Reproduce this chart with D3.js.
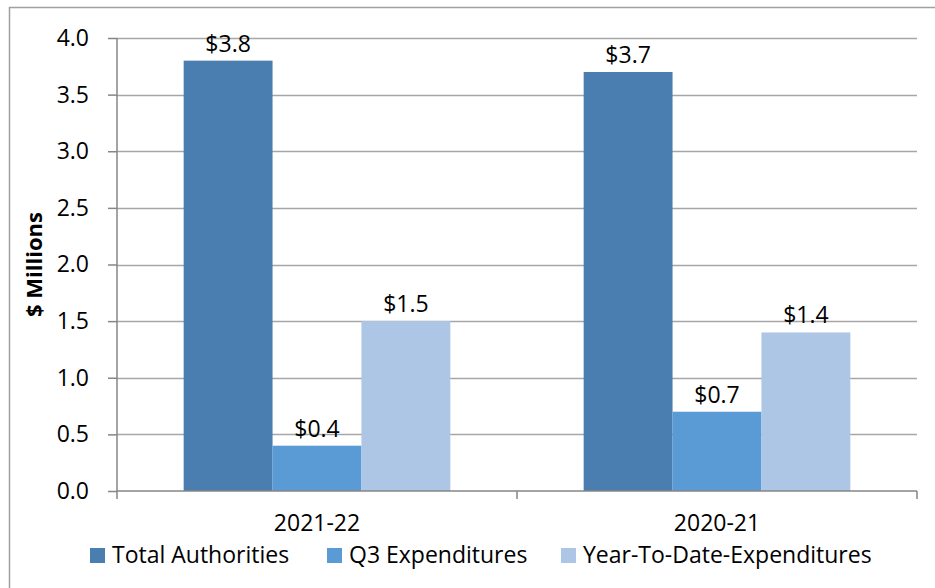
<!DOCTYPE html>
<html>
<head>
<meta charset="utf-8">
<script src="https://cdn.jsdelivr.net/npm/d3@7"></script>
<style>
  body { margin: 0; background: #fff; }
  svg { display: block; font-family: "Open Sans", sans-serif; }
</style>
</head>
<body>
<script>
// chart data
const years = ['2021-22', '2020-21'];
const seriesNames = ['Total Authorities', 'Q3 Expenditures', 'Year-To-Date-Expenditures'];
const totalAuthorities = [3.8, 3.7];
const q3Expenditures = [0.4, 0.7];
const ytdExpenditures = [1.5, 1.4];
const yTicks = [0, 0.5, 1, 1.5, 2, 2.5, 3, 3.5, 4];

const colors = ['#4a7eb0', '#5b9bd5', '#adc6e6'];
const seriesValues = [totalAuthorities, q3Expenditures, ytdExpenditures];

const width = 935;
const height = 588;
const margin = { top: 38, right: 18, bottom: 97, left: 117 };
const fontSize = '23px';

const svg = d3.select('body').append('svg')
    .attr('width', width)
    .attr('height', height);

// chart frame (only top and left edges are in view)
svg.append('rect')
    .attr('x', 9.5)
    .attr('y', 7.5)
    .attr('width', width + 20)
    .attr('height', height + 20)
    .attr('fill', 'none')
    .attr('stroke', '#a0a0a0')
    .attr('stroke-width', 1.5);

const x0 = d3.scaleBand()
    .domain(years)
    .range([margin.left, width - margin.right])
    .paddingInner(0)
    .paddingOuter(0);

// gap width 150% -> bars take 3 / (3 + 1.5) of each category
const groupWidth = x0.bandwidth() * 3 / 4.5;
const x1 = d3.scaleBand()
    .domain(seriesNames)
    .range([0, groupWidth]);

const y = d3.scaleLinear()
    .domain([0, 4])
    .range([height - margin.bottom, margin.top]);

// gridlines
svg.append('g')
    .selectAll('line')
    .data(yTicks.filter(d => d > 0))
    .enter().append('line')
    .attr('x1', margin.left)
    .attr('x2', width - margin.right)
    .attr('y1', d => Math.round(y(d)) + 0.5)
    .attr('y2', d => Math.round(y(d)) + 0.5)
    .attr('stroke', '#a6a6a6')
    .attr('stroke-width', 1.5);

// bars
const groups = svg.append('g')
    .selectAll('g')
    .data(years)
    .enter().append('g')
    .attr('transform', d => 'translate(' + (x0(d) + (x0.bandwidth() - groupWidth) / 2) + ',0)');

groups.selectAll('rect')
    .data((d, i) => seriesNames.map((s, j) => ({ series: s, value: seriesValues[j][i], color: colors[j] })))
    .enter().append('rect')
    .attr('x', d => x1(d.series))
    .attr('y', d => y(d.value))
    .attr('width', x1.bandwidth())
    .attr('height', d => y(0) - y(d.value))
    .attr('fill', d => d.color);

// data labels
groups.selectAll('text')
    .data((d, i) => seriesNames.map((s, j) => ({ series: s, value: seriesValues[j][i] })))
    .enter().append('text')
    .attr('x', d => x1(d.series) + x1.bandwidth() / 2)
    .attr('y', d => y(d.value) - 9)
    .attr('text-anchor', 'middle')
    .style('font-size', fontSize)
    .attr('fill', '#000')
    .text(d => '$' + d.value.toFixed(1));

// y axis
const yAxis = svg.append('g')
    .attr('transform', 'translate(' + margin.left + ',0)')
    .call(d3.axisLeft(y).tickValues(yTicks).tickFormat(d3.format('.1f')).tickSize(9).tickPadding(19));
yAxis.selectAll('line, path').attr('stroke', '#868686').attr('stroke-width', 1.5);
yAxis.select('.domain').attr('d', 'M0,' + y(4) + 'V' + y(0));
yAxis.selectAll('text')
    .style('font-size', fontSize)
    .style('font-family', '"Open Sans", sans-serif')
    .attr('fill', '#000');

// x axis
const xAxis = svg.append('g')
    .attr('transform', 'translate(0,' + y(0) + ')')
    .call(d3.axisBottom(x0).tickSize(0).tickPadding(24));
xAxis.select('.domain').attr('stroke', '#868686').attr('stroke-width', 1.5)
    .attr('d', 'M' + margin.left + ',0H' + (width - margin.right));
xAxis.selectAll('text')
    .style('font-size', fontSize)
    .style('font-family', '"Open Sans", sans-serif')
    .attr('fill', '#000');

// category dividers
svg.append('g')
    .selectAll('line')
    .data([margin.left, x0(years[1]), width - margin.right])
    .enter().append('line')
    .attr('x1', d => d)
    .attr('x2', d => d)
    .attr('y1', y(0))
    .attr('y2', y(0) + 8)
    .attr('stroke', '#868686')
    .attr('stroke-width', 1.5);

// y axis title
svg.append('text')
    .attr('transform', 'translate(42,' + (margin.top + (height - margin.bottom - margin.top) / 2) + ') rotate(-90)')
    .attr('text-anchor', 'middle')
    .style('font-size', '22px')
    .style('font-weight', 'bold')
    .text('$ Millions');

// legend
const legendX = [90, 327, 561];
const legend = svg.append('g')
    .selectAll('g')
    .data(seriesNames)
    .enter().append('g')
    .attr('transform', (d, i) => 'translate(' + legendX[i] + ',548)');

legend.append('rect')
    .attr('width', 15)
    .attr('height', 15)
    .attr('fill', (d, i) => colors[i]);

legend.append('text')
    .attr('x', 22)
    .attr('y', 15)
    .style('font-size', fontSize)
    .text(d => d);
</script>
</body>
</html>
